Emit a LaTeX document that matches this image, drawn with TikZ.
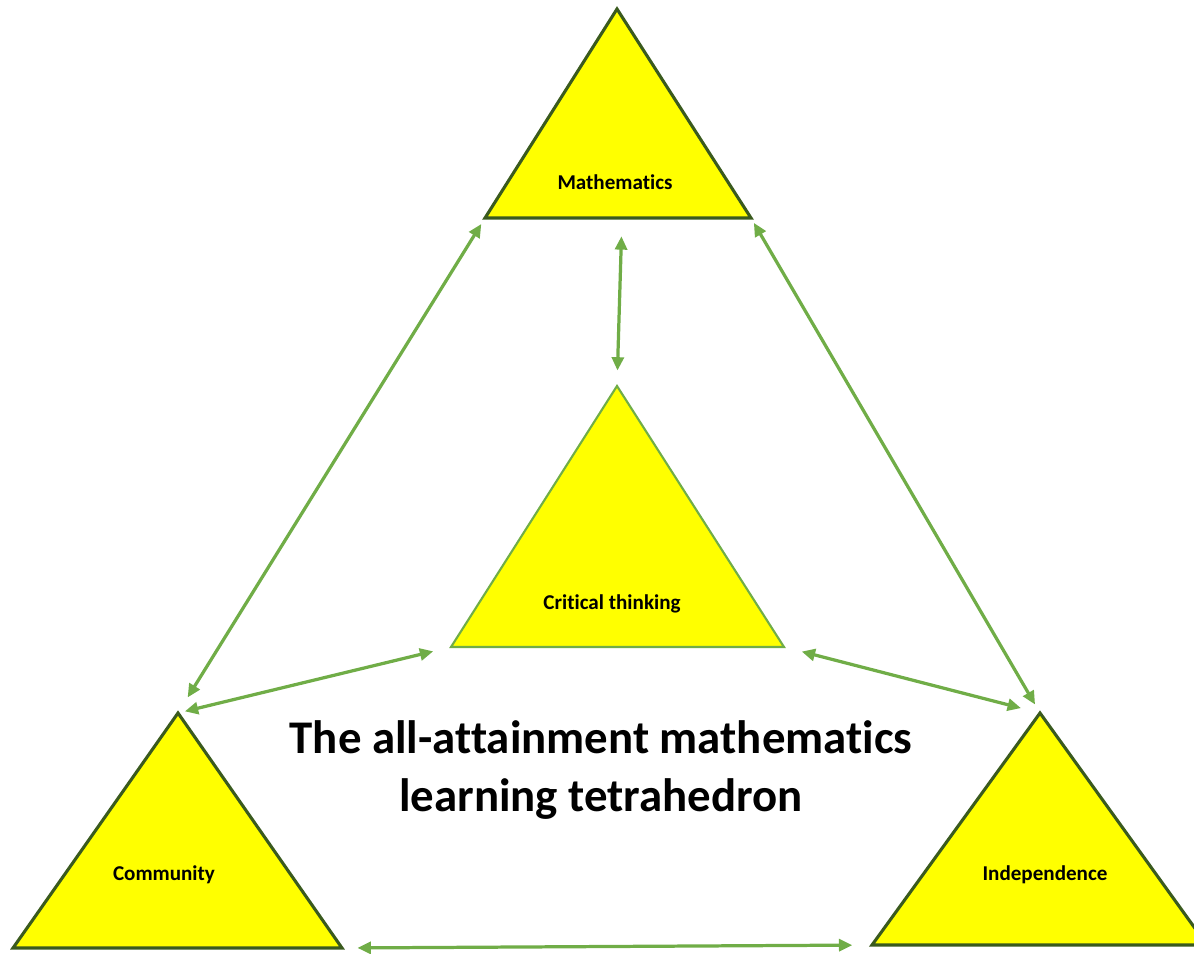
\documentclass[tikz,border=0pt]{standalone}
\usepackage{fontspec}
\setmainfont{Carlito}[Ligatures=NoCommon]
\usepackage{xcolor}
\usetikzlibrary{arrows.meta}

\definecolor{tetragreen}{HTML}{70AD47}
\definecolor{tetraolive}{HTML}{3A5A1E}
\definecolor{tetrayellow}{HTML}{FFFF00}

\begin{document}
\begin{tikzpicture}[
    x=0.025cm, y=-0.025cm,
    every node/.style={align=center},
    tri/.style={draw=tetraolive, line width=2.2pt, fill=tetrayellow, line join=miter},
    innertri/.style={draw=tetragreen, line width=1.5pt, fill=tetrayellow, line join=miter},
    lab/.style={font=\fontsize{15}{18}\selectfont\bfseries, inner sep=0pt},
    title/.style={font=\fontsize{33.3}{41}\selectfont\bfseries},
    arr/.style={{Triangle[length=9.5pt,width=8.5pt]}-{Triangle[length=9.5pt,width=8.5pt]},
                draw=tetragreen, fill=tetragreen, line width=2.3pt},
]
\useasboundingbox (0,0) rectangle (1194,953);
\clip (0,0) rectangle (1194,953);

% Corner triangles
\draw[tri] (617,9) coordinate (m-top) -- (751,218) coordinate (m-r)
    -- coordinate[pos=0.485] (m-base) (485,218) coordinate (m-l) -- cycle;
\draw[tri] (178,713) coordinate (co-top) -- (342,948) coordinate (co-r)
    -- (13,948) coordinate (co-l) -- cycle;
\draw[tri] (1040,713) coordinate (in-top) -- (1207,945) coordinate (in-r)
    -- (872,945) coordinate (in-l) -- cycle;

% Centre triangle
\draw[innertri] (617,386) coordinate (ct-top) -- (784,647) coordinate (ct-r)
    -- (451,647) coordinate (ct-l) -- cycle;

% Labels
\node[lab] (math)  at (615,182) {Mathematics};
\node[lab] (crit)  at (612,604) {Critical thinking};
\node[lab] (comm)  at (164,875) {Community};
\node[lab] (indep) at (1045,875) {Independence};

\node[title] (ttl) at (601,770) {The all-attainment mathematics\\learning tetrahedron};

% Arrows
\draw[arr, shorten <=5pt, shorten >=13pt] (m-l) -- (co-top);
\draw[arr, shorten <=4pt, shorten >=7pt] (m-r) -- (in-top);
\draw[arr, shorten <=13pt, shorten >=11pt] (m-base) -- (ct-top);
\draw[arr, shorten <=13pt, shorten >=5pt] (ct-l) -- (co-top);
\draw[arr, shorten <=13pt, shorten >=14pt] (ct-r) -- (in-top);
\draw[arr, shorten <=11pt, shorten >=14pt] (co-r) -- (in-l);

\end{tikzpicture}
\end{document}
